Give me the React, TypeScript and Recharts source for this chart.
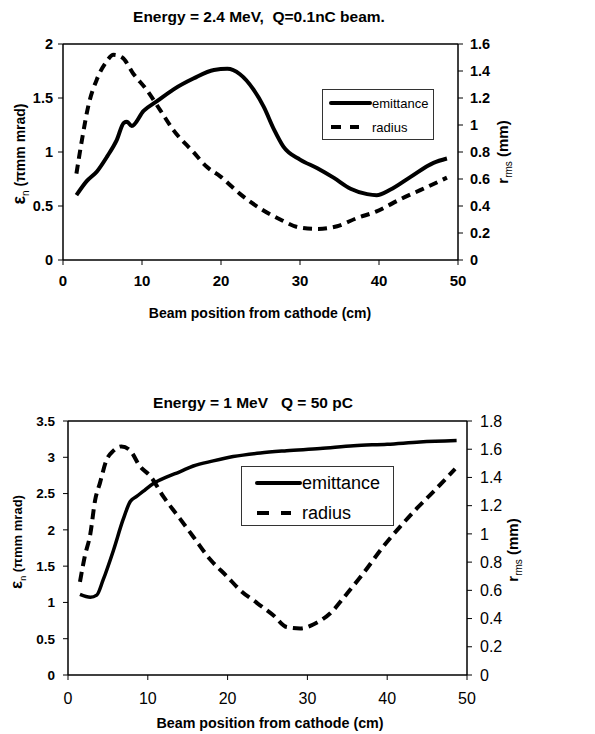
import { LineChart, Line, XAxis, YAxis, ReferenceLine, Legend } from 'recharts';

const FONT = '"Liberation Sans", Arial, sans-serif';

// top panel: 2.4 MeV, 0.1 nC
const topEmitPos = [1.7, 3.0, 4.3, 5.6, 6.8, 7.7, 8.1, 8.7, 10.2, 11.9, 14.0, 16.5, 19.1, 20.8, 22.4, 24.1, 25.4, 26.7, 27.9, 30.0, 32.2, 34.3, 36.4, 38.5, 39.7, 41.4, 44.0, 46.9, 48.6];
const topEmit = [0.6, 0.73, 0.82, 0.96, 1.11, 1.27, 1.28, 1.24, 1.38, 1.47, 1.58, 1.68, 1.76, 1.77, 1.72, 1.58, 1.42, 1.21, 1.05, 0.93, 0.85, 0.76, 0.66, 0.61, 0.6, 0.65, 0.77, 0.9, 0.94];
const topRadiusPos = [1.7, 2.4, 3.2, 4.3, 5.4, 6.4, 7.5, 8.9, 10.6, 12.3, 14.0, 16.5, 18.2, 19.9, 22.4, 25.0, 27.5, 30.0, 32.2, 34.7, 37.2, 39.7, 42.7, 45.7, 48.6];
const topRadius = [0.64, 0.89, 1.14, 1.34, 1.46, 1.52, 1.5, 1.38, 1.26, 1.11, 0.96, 0.8, 0.69, 0.62, 0.49, 0.38, 0.3, 0.24, 0.23, 0.25, 0.31, 0.36, 0.45, 0.53, 0.61];
const topLeftTicks = [0, 0.5, 1, 1.5, 2];
const topRightTicks = [0, 0.2, 0.4, 0.6, 0.8, 1, 1.2, 1.4, 1.6];

// bottom panel: 1 MeV, 50 pC
const botEmitPos = [1.5, 2.8, 3.6, 4.4, 5.7, 6.9, 7.8, 8.6, 9.4, 10.7, 12.4, 14.0, 15.7, 18.2, 20.7, 24.1, 27.4, 31.6, 35.8, 40.0, 44.1, 48.7];
const botEmit = [1.11, 1.07, 1.1, 1.31, 1.72, 2.14, 2.39, 2.46, 2.53, 2.64, 2.73, 2.8, 2.88, 2.95, 3.01, 3.06, 3.09, 3.12, 3.16, 3.18, 3.21, 3.23];
const botRadiusPos = [1.5, 2.1, 2.8, 3.4, 4.0, 4.8, 5.7, 6.7, 7.8, 9.0, 10.3, 12.0, 14.0, 15.7, 17.8, 19.9, 21.6, 23.7, 25.8, 27.4, 29.1, 30.8, 32.9, 35.0, 37.0, 39.5, 41.6, 43.7, 45.8, 48.5];
const botRadius = [0.66, 0.84, 1.0, 1.24, 1.36, 1.52, 1.59, 1.62, 1.59, 1.48, 1.41, 1.26, 1.11, 0.98, 0.82, 0.7, 0.6, 0.51, 0.42, 0.34, 0.33, 0.36, 0.44, 0.58, 0.72, 0.91, 1.05, 1.18, 1.3, 1.46];
const botLeftTicks = [0, 0.5, 1, 1.5, 2, 2.5, 3, 3.5];
const botRightTicks = [0, 0.2, 0.4, 0.6, 0.8, 1, 1.2, 1.4, 1.6, 1.8];

const xTicks = [0, 10, 20, 30, 40, 50];

const toPoints = (xs: number[], ys: number[]) => xs.map((x, i) => ({ x, y: ys[i] }));

function LegendBox({ w, h, fs, row1, row2, sx, ex, rx, textX, dash }: any) {
  return (
    <svg width={w} height={h} style={{ display: 'block' }}>
      <rect x={0.5} y={0.5} width={w - 1} height={h - 1} fill="#fff" stroke="#333" />
      <line x1={sx} x2={ex} y1={row1} y2={row1} stroke="#000" strokeWidth={4} strokeLinecap="round" />
      <text x={textX} y={row1} dy="0.35em" fontSize={fs} fontFamily={FONT}>emittance</text>
      <line x1={sx} x2={rx} y1={row2} y2={row2} stroke="#000" strokeWidth={4} strokeDasharray={dash} />
      <text x={textX} y={row2} dy="0.35em" fontSize={fs} fontFamily={FONT}>radius</text>
    </svg>
  );
}

function Panel(props: any) {
  const p = props;
  const tickX = { fill: '#000', fontSize: p.xFs, fontWeight: p.xBold ? 'bold' : 'normal', fontFamily: FONT };
  const tickL = { fill: '#000', fontSize: p.lFs, fontWeight: 'bold', fontFamily: FONT };
  const tickR = { fill: '#000', fontSize: p.rFs, fontWeight: p.rBold ? 'bold' : 'normal', fontFamily: FONT };
  const axis = { stroke: '#000', strokeWidth: 1.5 };
  return (
    <div style={{ position: 'absolute', left: 0, top: p.top, width: 595, height: p.height }}>
      <LineChart width={595} height={p.height} margin={p.margin}>
        <XAxis dataKey="x" type="number" domain={[0, 50]} ticks={xTicks} interval={0} tick={tickX}
          axisLine={axis} tickLine={{ stroke: '#000' }} tickSize={5} tickMargin={p.xMargin} height={30} allowDuplicatedCategory={false} />
        <YAxis yAxisId="left" domain={[0, p.lMax]} ticks={p.lTicks} interval={0} tick={tickL}
          axisLine={axis} tickLine={{ stroke: '#000' }} tickSize={5} tickMargin={p.lMargin} width={40} />
        <YAxis yAxisId="right" orientation="right" domain={[0, p.rMax]} ticks={p.rTicks} interval={0} tick={tickR}
          axisLine={axis} tickLine={{ stroke: '#000' }} tickSize={5} tickMargin={p.rMargin} width={60} />
        <ReferenceLine yAxisId="left" y={p.lMax} stroke="#000" strokeWidth={1.5} />
        <Line yAxisId="left" data={p.emit} dataKey="y" type="monotone" stroke="#000" strokeWidth={p.emitW}
          dot={false} isAnimationActive={false} name="emittance" />
        <Line yAxisId="right" data={p.radius} dataKey="y" type="monotone" stroke="#000" strokeWidth={4}
          strokeDasharray={p.dash} dot={false} isAnimationActive={false} name="radius" />
        <Legend layout="vertical" align="center" verticalAlign="middle"
          wrapperStyle={{ ...p.legendPos, width: p.legend.w, height: p.legend.h }}
          content={() => <LegendBox {...p.legend} />} />
      </LineChart>
      <svg width={595} height={p.height} style={{ position: 'absolute', left: 0, top: 0, pointerEvents: 'none' }}>
        <text x={p.titleX} y={p.titleY} dy="0.35em" textAnchor="middle" fontSize={p.titleFs} fontWeight="bold"
          fontFamily={FONT} style={{ whiteSpace: 'pre' }}>{p.title}</text>
        <text x={p.xLabX} y={p.xLabY} dy="0.35em" textAnchor="middle" fontSize={p.xLabFs} fontWeight="bold" fontFamily={FONT}>Beam position from cathode (cm)</text>
        <text transform={`translate(${p.lLab[0]},${p.lLab[1]}) rotate(-90)`} dy="0.35em" textAnchor="middle" fontWeight="bold" fontFamily={FONT} fontSize={p.lLabFs}>
          <tspan fontSize={p.lLabFs + 4}>ε</tspan><tspan fontSize={p.lLabFs - 4} fontWeight="normal" dy="4">n</tspan><tspan dy="-4"> (πmm mrad)</tspan>
        </text>
        <text transform={`translate(${p.rLab[0]},${p.rLab[1]}) rotate(-90)`} dy="0.35em" textAnchor="middle" fontWeight="bold" fontFamily={FONT} fontSize={p.rLabFs}>
          <tspan>r</tspan><tspan fontSize={p.rLabFs - 5} fontWeight="normal" dy="4">rms</tspan><tspan dy="-4"> (mm)</tspan>
        </text>
      </svg>
    </div>
  );
}

export default function App() {
  return (
    <div style={{ position: 'absolute', left: 0, top: 0, width: 595, height: 734, background: '#fff' }}>
      <Panel top={0} height={330} margin={{ top: 44, left: 23, right: 77, bottom: 40 }}
        xFs={15} xBold lFs={14.5} rFs={14.5} rBold xMargin={10} lMargin={5} rMargin={7}
        lMax={2} lTicks={topLeftTicks} rMax={1.6} rTicks={topRightTicks}
        emit={toPoints(topEmitPos, topEmit)} radius={toPoints(topRadiusPos, topRadius)} emitW={4} dash="9 6"
        legendPos={{ left: 322, top: 89 }}
        legend={{ w: 112, h: 51, fs: 13, row1: 14, row2: 38, sx: 9, ex: 48, rx: 37, textX: 50, dash: '10 9' }}
        title="Energy = 2.4 MeV,  Q=0.1nC beam." titleX={259} titleY={17} titleFs={15.5}
        xLabX={260} xLabY={313} xLabFs={14}
        lLab={[20, 154]} lLabFs={14} rLab={[503, 152]} rLabFs={15} />
      <Panel top={360} height={374} margin={{ top: 61, left: 28, right: 68, bottom: 29 }}
        xFs={16} lFs={13.5} rFs={16} xMargin={13} lMargin={8} rMargin={8}
        lMax={3.5} lTicks={botLeftTicks} rMax={1.8} rTicks={botRightTicks}
        emit={toPoints(botEmitPos, botEmit)} radius={toPoints(botRadiusPos, botRadius)} emitW={3.5} dash="10 6"
        legendPos={{ left: 241, top: 106 }}
        legend={{ w: 153, h: 60, fs: 18, row1: 17, row2: 47, sx: 16, ex: 59, rx: 50, textX: 61, dash: '12 12' }}
        title="Energy = 1 MeV   Q = 50 pC" titleX={253} titleY={43} titleFs={15.5}
        xLabX={270} xLabY={363} xLabFs={14.3}
        lLab={[17, 182]} lLabFs={13} rLab={[513, 190]} rLabFs={15} />
    </div>
  );
}
